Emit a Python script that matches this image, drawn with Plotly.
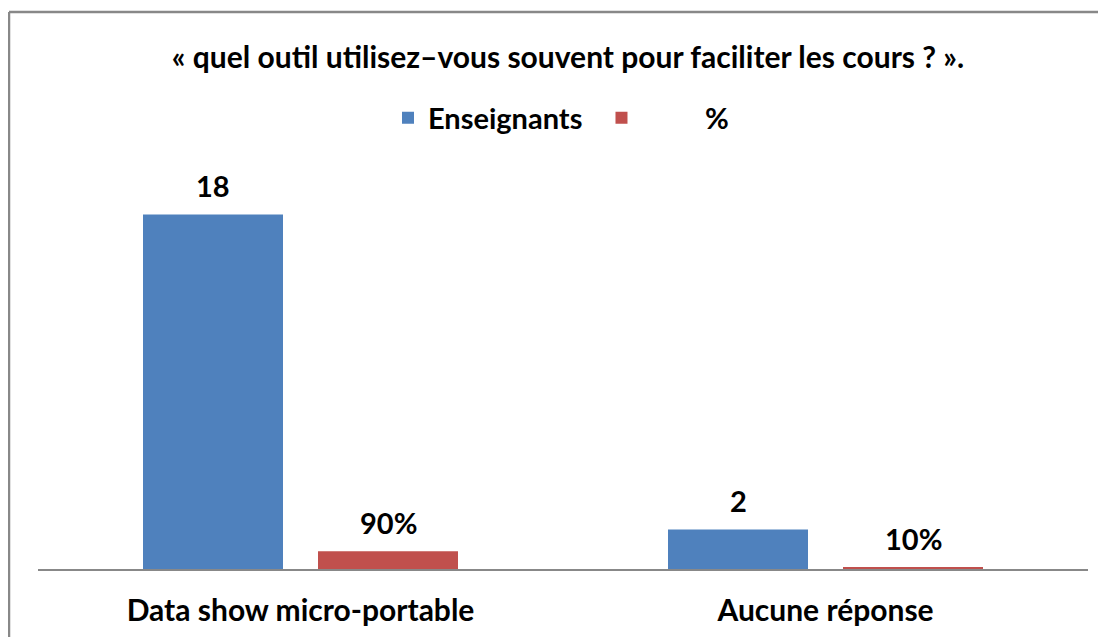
import plotly.graph_objects as go

CATEGORIES = ["Data show micro-portable", "Aucune réponse"]
ENSEIGNANTS = [18, 2]
POURCENT = [0.9, 0.1]
POURCENT_LABELS = ["90%", "10%"]

BLUE = "#4f81bd"
RED = "#c0504d"
FONT = "Lato"
SIZE = 29

# page body has an 8px margin, so work in figure coordinates = screen - 8
OFF = 8
W, H = 1098, 629
L, R, T, B = 38 - OFF, 18, 175 - OFF, 68
pw, ph = W - L - R, H - T - B


def px_x(x):
    return (x - OFF - L) / pw


def px_y(y):
    return (H - B - (y - OFF)) / ph


bold = dict(family=FONT, size=SIZE, color="black", weight="bold")
bold30 = dict(bold, size=30)

fig = go.Figure()
fig.add_trace(go.Bar(
    name="Enseignants\u00a0\u00a0", x=CATEGORIES, y=ENSEIGNANTS,
    marker_color=BLUE, marker_line_width=0,
))
fig.add_trace(go.Bar(
    name="\u00a0" * 9 + "%", x=CATEGORIES, y=POURCENT,
    marker_color=RED, marker_line_width=0,
))

# value labels above the bars
for shift, vals, labels in [(-87.5, ENSEIGNANTS, [str(v) for v in ENSEIGNANTS]),
                            (87.5, POURCENT, POURCENT_LABELS)]:
    for cat, v, lab in zip(CATEGORIES, vals, labels):
        fig.add_annotation(
            x=cat, y=v, text=lab, showarrow=False,
            xshift=shift, yshift=29, yanchor="middle", font=bold,
        )

fig.update_layout(
    width=W, height=H,
    barmode="group", bargap=1 / 3, bargroupgap=0.2,
    title=dict(
        text="« quel outil utilisez–vous souvent pour faciliter les cours ? ».",
        x=560 / W, xanchor="center", y=1 - 49 / H, yanchor="middle",
        font=bold30,
    ),
    legend=dict(
        orientation="h", x=px_x(561), xanchor="center", y=px_y(118), yanchor="middle",
        font=bold, traceorder="normal",
    ),
    font=dict(family=FONT, color="black"),
    plot_bgcolor="white", paper_bgcolor="white",
    margin=dict(l=L, r=R, t=T, b=B, autoexpand=False),
    xaxis=dict(
        showline=True, linecolor="#888888", linewidth=1.5, automargin=False,
        ticks="", tickfont=bold30, ticklabelstandoff=14,
    ),
    yaxis=dict(range=[0, 20], visible=False, showgrid=False),
    showlegend=True,
    shapes=[
        dict(type="line", xref="paper", yref="paper",
             x0=px_x(9), x1=px_x(1120), y0=px_y(12), y1=px_y(12),
             line=dict(color="#888888", width=2.5)),
        dict(type="line", xref="paper", yref="paper",
             x0=px_x(9), x1=px_x(9), y0=px_y(12), y1=px_y(660),
             line=dict(color="#888888", width=2.5)),
    ],
)

fig.write_html("out.html")
